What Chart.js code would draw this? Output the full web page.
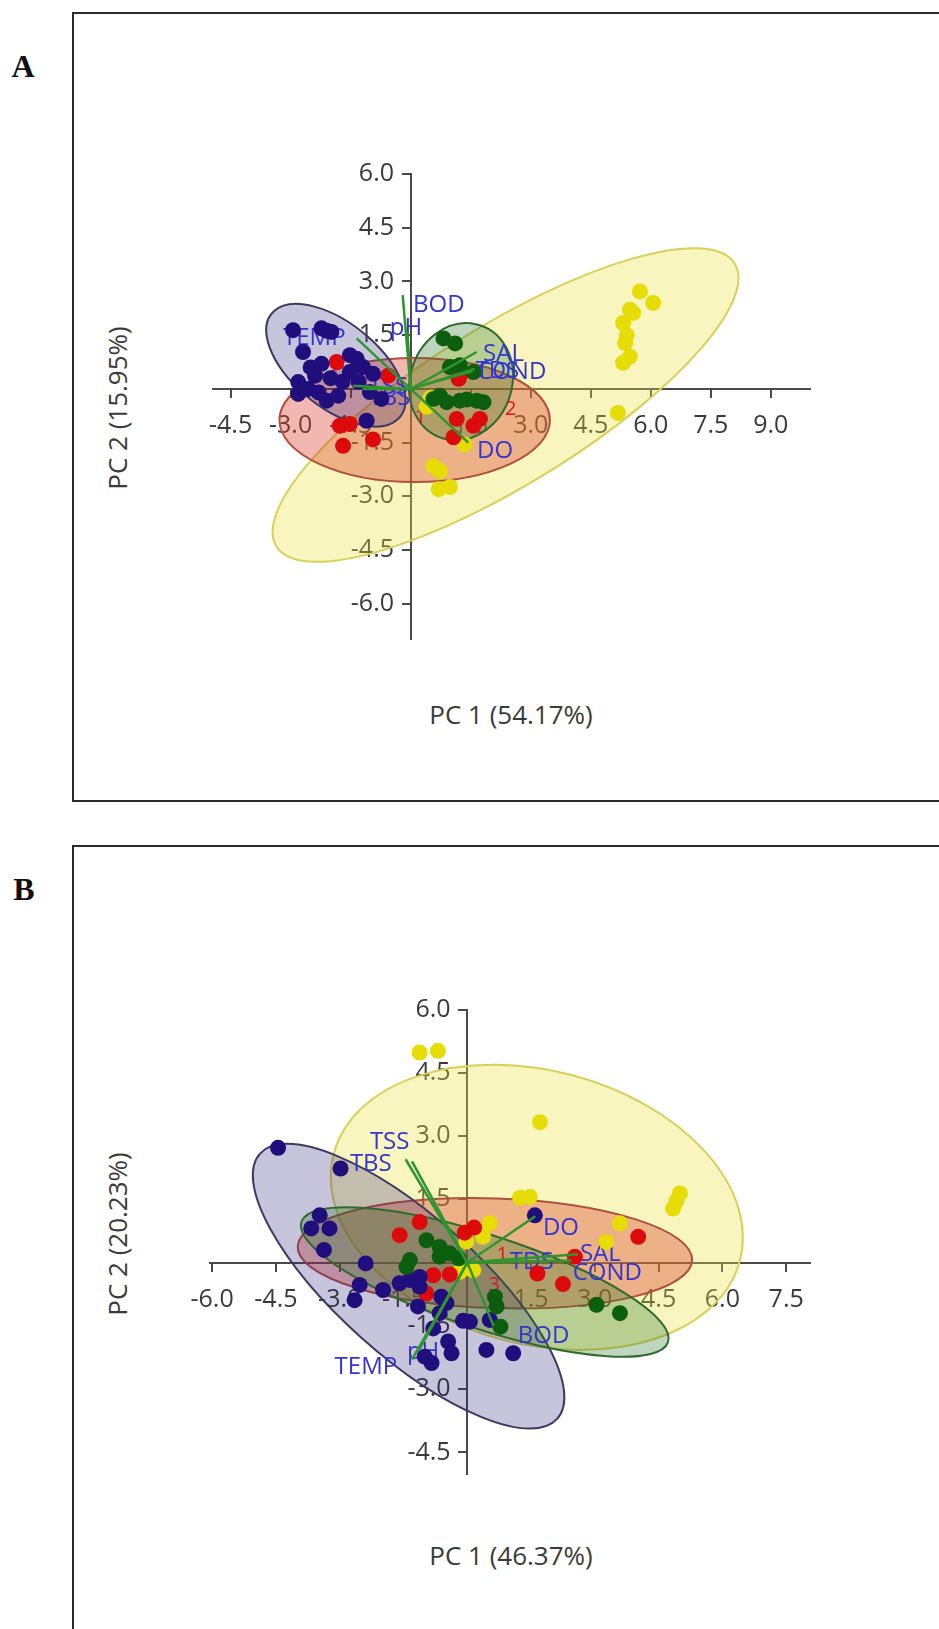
<!DOCTYPE html>
<html>
<head>
<meta charset="utf-8">
<title>PCA biplots A / B</title>
<script src="https://cdn.jsdelivr.net/npm/chart.js"></script>
<style>
  html, body { margin: 0; padding: 0; background: #fff; overflow: hidden; }
  body { width: 939px; height: 1629px; position: relative; font-family: "Open Sans", sans-serif; }
  .frame { position: absolute; left: 72px; width: 1000px; border: 2px solid #2a2a2a; }
  #frameA { top: 12px; height: 786px; }
  #frameB { top: 845px; height: 900px; }
  .letter { position: absolute; font-family: "Liberation Serif", serif; font-weight: bold; font-size: 32px;
            line-height: 1; color: #111; transform: translate(-50%, -50%); }
  .title { position: absolute; font-size: 26px; color: #3a3a3a; white-space: nowrap; line-height: 1;
           transform: translate(-50%, -50%); }
  .vtitle { transform: translate(-50%, -50%) rotate(-90deg); }
  canvas { position: absolute; }
</style>
</head>
<body>
<div class="frame" id="frameA"></div>
<div class="frame" id="frameB"></div>
<div class="letter" style="left:23px; top:66px;">A</div>
<div class="letter" style="left:24px; top:889px;">B</div>

<canvas id="chartA" width="710" height="540" style="left:140px; top:140px;"></canvas>
<canvas id="chartB" width="710" height="540" style="left:140px; top:975px;"></canvas>

<div class="title" style="left:511px; top:714px;">PC 1 (54.17%)</div>
<div class="title vtitle" style="left:117px; top:408px;">PC 2 (15.95%)</div>
<div class="title" style="left:511px; top:1555px;">PC 1 (46.37%)</div>
<div class="title vtitle" style="left:117px; top:1234px;">PC 2 (20.23%)</div>

<script>
// ---------- panel A data ----------
const tickXA = [-4.5, -3, -1.5, 1.5, 3, 4.5, 6, 7.5, 9];
const tickYA = [6, 4.5, 3, 1.5, -1.5, -3, -4.5, -6];

const blueA = [[-2.94,1.64],[-2.23,1.69],[-1.98,1.59],[-2.1,1.62],[-2.69,1.03],[-2.23,0.70],[-2.39,0.37],
  [-2.81,0.19],[-2.81,-0.14],[-2.56,0.0],[-2.10,-0.33],[-1.81,-0.19],[-1.52,0.94],[-1.35,0.84],[-1.19,0.61],
  [-0.94,0.42],[-1.52,0.47],[-1.02,-0.09],[-0.73,-0.28],[-1.10,-0.89],[-2.0,0.3],[-2.5,0.6],[-1.7,0.2],
  [-2.3,-0.1],[-1.3,0.2]];
const redA = [[-1.85,0.75],[-0.56,0.37],[-1.77,-1.03],[-1.69,-1.59],[-0.94,-1.41],[-1.52,-0.98],
  [1.15,-0.84],[1.57,-1.03],[1.07,-1.35],[1.73,-0.84],[1.23,0.37],[1.2,0.28]];
const greenA = [[0.82,1.41],[1.11,1.27],[1.23,0.66],[1.57,0.47],[0.98,0.61],[0.57,-0.28],[0.9,-0.37],
  [1.23,-0.33],[1.65,-0.33],[1.82,-0.37],[0.73,-0.19],[1.4,-0.3]];
const yellowA = [[5.73,2.72],[6.06,2.4],[5.48,2.21],[5.56,2.12],[5.31,1.84],[5.4,1.5],[5.36,1.28],[5.48,0.9],
  [5.31,0.73],[5.18,-0.67],[0.57,-2.16],[0.73,-2.3],[0.98,-2.74],[0.7,-2.8],[1.35,-1.55],[0.4,-0.5],[0.5,-0.25]];

// loading vectors: end points, and where their names sit
const loadNamesA = ['BOD', 'pH', 'TEMP', 'TSS', 'TBS', 'SAL', 'TDS', 'COND', 'DO'];
const loadEndA = [[-0.2,2.62],[-0.08,1.6],[-1.35,1.41],[-1.44,0.09],[-1.2,0.0],[1.65,1.03],[1.55,0.5],[1.6,0.56],[1.44,-1.5]];
const loadTextA = [[0.06,2.33],[-0.52,1.69],[-3.19,1.41],[-1.05,0.05],[-1.05,-0.25],[1.81,0.98],[1.62,0.5],[1.66,0.46],[1.66,-1.74]];
const groupNumA = ['1', '2'];
const groupNumPosA = [[0.1,-0.79],[2.36,-0.56]];

// confidence ellipses: [cx, cy, rx, ry, angleDeg]
const ellYellowA = [2.37, -0.45, 6.96, 2.15, 35.2];
const ellRedA = [0.1, -0.87, 3.38, 1.73, 0];
const ellBlueA = [-1.87, 0.66, 2.16, 1.13, -44.2];
const ellGreenA = [1.26, 0.2, 1.65, 1.28, 78];

// ---------- panel B data ----------
const tickXB = [-6, -4.5, -3, -1.5, 1.5, 3, 4.5, 6, 7.5];
const tickYB = [6, 4.5, 3, 1.5, -1.5, -3, -4.5];

const blueB = [[-4.45,2.72],[-2.98,2.23],[1.59,1.12],[-3.47,1.12],[-3.67,0.81],[-3.24,0.81],[-3.37,0.30],
  [-2.39,-0.02],[-2.53,-0.53],[-2.65,-0.89],[-1.98,-0.65],[-1.59,-0.49],[-1.35,-0.41],[-1.12,-0.34],
  [-1.12,-0.57],[-1.16,-1.04],[-0.61,-0.81],[-0.49,-0.96],[-0.65,-1.2],[-0.80,-1.56],[-0.45,-1.87],
  [-0.37,-2.15],[-1.0,-2.23],[-0.84,-2.38],[-0.1,-1.38],[0.06,-1.40],[0.53,-1.36],[0.45,-2.07],[1.08,-2.15]];
const redB = [[-1.12,0.96],[-1.59,0.65],[-0.06,0.71],[0.16,0.83],[-0.8,-0.3],[-0.41,-0.28],[-0.96,-0.73],
  [1.65,-0.26],[2.25,-0.51],[2.53,0.14],[4.02,0.61]];
const greenB = [[-0.96,0.53],[-0.65,0.37],[-0.41,0.22],[-1.35,0.06],[-1.43,-0.1],[-0.65,0.14],[-0.2,0.1],
  [0.65,-0.81],[0.69,-1.04],[0.78,-1.52],[3.04,-1.0],[3.59,-1.2]];
const yellowB = [[-1.12,4.98],[-0.69,5.02],[1.71,3.33],[1.24,1.54],[1.47,1.56],[4.84,1.28],[4.92,1.46],
  [5.0,1.64],[3.59,0.93],[3.27,0.49],[0.53,0.93],[0.37,0.61],[0.06,-0.14],[-0.18,-0.22],[0.14,-0.18],[-0.02,0.5]];

const loadNamesB = ['TSS', 'TBS', 'DO', 'TDS', 'SAL', 'COND', 'BOD', 'pH', 'TEMP'];
const loadEndB = [[-1.45,2.45],[-1.3,2.4],[1.6,1.1],[1.05,0.02],[2.6,0.2],[2.45,0.05],[0.62,-1.5],[-1.15,-2.1],[-1.3,-2.3]];
const loadTextB = [[-2.29,2.85],[-2.76,2.33],[1.78,0.81],[1.0,0.01],[2.65,0.2],[2.48,-0.25],[1.19,-1.74],[-1.42,-2.12],[-3.12,-2.49]];
const groupNumB = ['1', '3'];
const groupNumPosB = [[0.69,0.18],[0.5,-0.53]];

const ellYellowB = [1.635, 1.31, 4.94, 3.24, -15];
const ellRedB = [0.65, 0.22, 4.64, 1.30, -2];
const ellBlueB = [-1.38, -0.56, 4.7, 1.65, -42];
const ellGreenB = [0.41, -0.46, 4.54, 1.11, -18.3];

// ---------- styles ----------
const NAVY = '#200e7c', RED = '#dc0a0a', GREEN = '#0b5e0e', YELLOW = '#e6dc06';
const LABEL_BLUE = '#3434d2', VECTOR_GREEN = '#2f952f';
const ellFill = ['rgba(235,225,60,0.33)', 'rgba(215,55,35,0.36)', 'rgba(40,30,120,0.26)', 'rgba(40,120,40,0.30)'];
const ellStroke = ['#d8d058', '#b0503e', '#3c3a62', '#2f6a2f'];
const FONT = '"Open Sans", sans-serif';

function overlay(ellipses, names, textPos, nums, numPos) {
  return {
    id: 'overlay',
    beforeDatasetsDraw(chart) {
      const { ctx } = chart;
      const sx = chart.scales.x, sy = chart.scales.y;
      const kx = sx.getPixelForValue(1) - sx.getPixelForValue(0);
      const ky = sy.getPixelForValue(1) - sy.getPixelForValue(0);
      ctx.save();
      ellipses.forEach(([cx, cy, rx, ry, ang], i) => {
        const t = ang * Math.PI / 180;
        ctx.save();
        ctx.beginPath();
        ctx.transform(rx * Math.cos(t) * kx, rx * Math.sin(t) * ky,
                      -ry * Math.sin(t) * kx, ry * Math.cos(t) * ky,
                      sx.getPixelForValue(cx), sy.getPixelForValue(cy));
        ctx.arc(0, 0, 1, 0, Math.PI * 2);
        ctx.restore();
        ctx.fillStyle = ellFill[i];
        ctx.fill();
        ctx.strokeStyle = ellStroke[i];
        ctx.lineWidth = 2;
        ctx.stroke();
      });
      ctx.textBaseline = 'middle';
      ctx.textAlign = 'left';
      ctx.font = '24px ' + FONT;
      ctx.fillStyle = LABEL_BLUE;
      names.forEach((n, i) => ctx.fillText(n, sx.getPixelForValue(textPos[i][0]), sy.getPixelForValue(textPos[i][1])));
      ctx.font = '20px ' + FONT;
      ctx.fillStyle = '#d21a1a';
      nums.forEach((n, i) => ctx.fillText(n, sx.getPixelForValue(numPos[i][0]), sy.getPixelForValue(numPos[i][1])));
      ctx.restore();
    }
  };
}

// axes cross at the origin; y labels are right-aligned on the axis line,
// so a trailing gap keeps them clear of the tick marks
function axis(min, max, ticks, pos, vertical) {
  return {
    type: 'linear', min: min, max: max, position: pos,
    afterBuildTicks: s => { s.ticks = ticks.map(v => ({ value: v })); },
    afterFit: s => { if (s.isHorizontal()) s.height = 0; else s.width = 0; },
    border: { display: true, color: '#4a4a4a', width: 2 },
    grid: { display: true, drawOnChartArea: false, drawTicks: true, tickLength: 8, color: '#4a4a4a', lineWidth: 2 },
    ticks: { autoSkip: false, maxRotation: 0, padding: 14, color: '#3a3a3a',
             font: { family: FONT, size: 25 },
             callback: v => vertical ? v.toFixed(1) + '\u2002\u2009' : v.toFixed(1) }
  };
}

function pts(arr) { return arr.map(([x, y]) => ({ x: x, y: y })); }

function biplot(id, groups, loadEnd, xr, yr, tx, ty, pad, plugin) {
  const colors = [GREEN, NAVY, RED, YELLOW];
  const datasets = loadEnd.map(([x, y]) => ({
    data: [{ x: 0, y: 0 }, { x: x, y: y }], showLine: true, borderColor: VECTOR_GREEN,
    borderWidth: 2.5, pointRadius: 0, order: 0
  }));
  groups.forEach((g, i) => datasets.push({
    data: pts(g), backgroundColor: colors[i], borderWidth: 0, pointRadius: 8, order: i + 1
  }));
  new Chart(document.getElementById(id), {
    type: 'scatter',
    data: { datasets: datasets },
    options: {
      responsive: false, animation: false, devicePixelRatio: 1,
      layout: { padding: pad },
      plugins: { legend: { display: false }, tooltip: { enabled: false } },
      scales: { x: axis(xr[0], xr[1], tx, { y: 0 }, false), y: axis(yr[0], yr[1], ty, { x: 0 }, true) }
    },
    plugins: [plugin]
  });
}

biplot('chartA', [greenA, blueA, redA, yellowA], loadEndA, [-4.94, 9.98], [-6.97, 6.0], tickXA, tickYA,
  { left: 73, right: 40, top: 34, bottom: 41.5 },
  overlay([ellYellowA, ellRedA, ellBlueA, ellGreenA], loadNamesA, loadTextA, groupNumA, groupNumPosA));

biplot('chartB', [greenB, blueB, redB, yellowB], loadEndB, [-6.05, 8.06], [-5.0, 6.0], tickXB, tickYB,
  { left: 70, right: 40, top: 34.5, bottom: 41.5 },
  overlay([ellYellowB, ellRedB, ellBlueB, ellGreenB], loadNamesB, loadTextB, groupNumB, groupNumPosB));
</script>
</body>
</html>
